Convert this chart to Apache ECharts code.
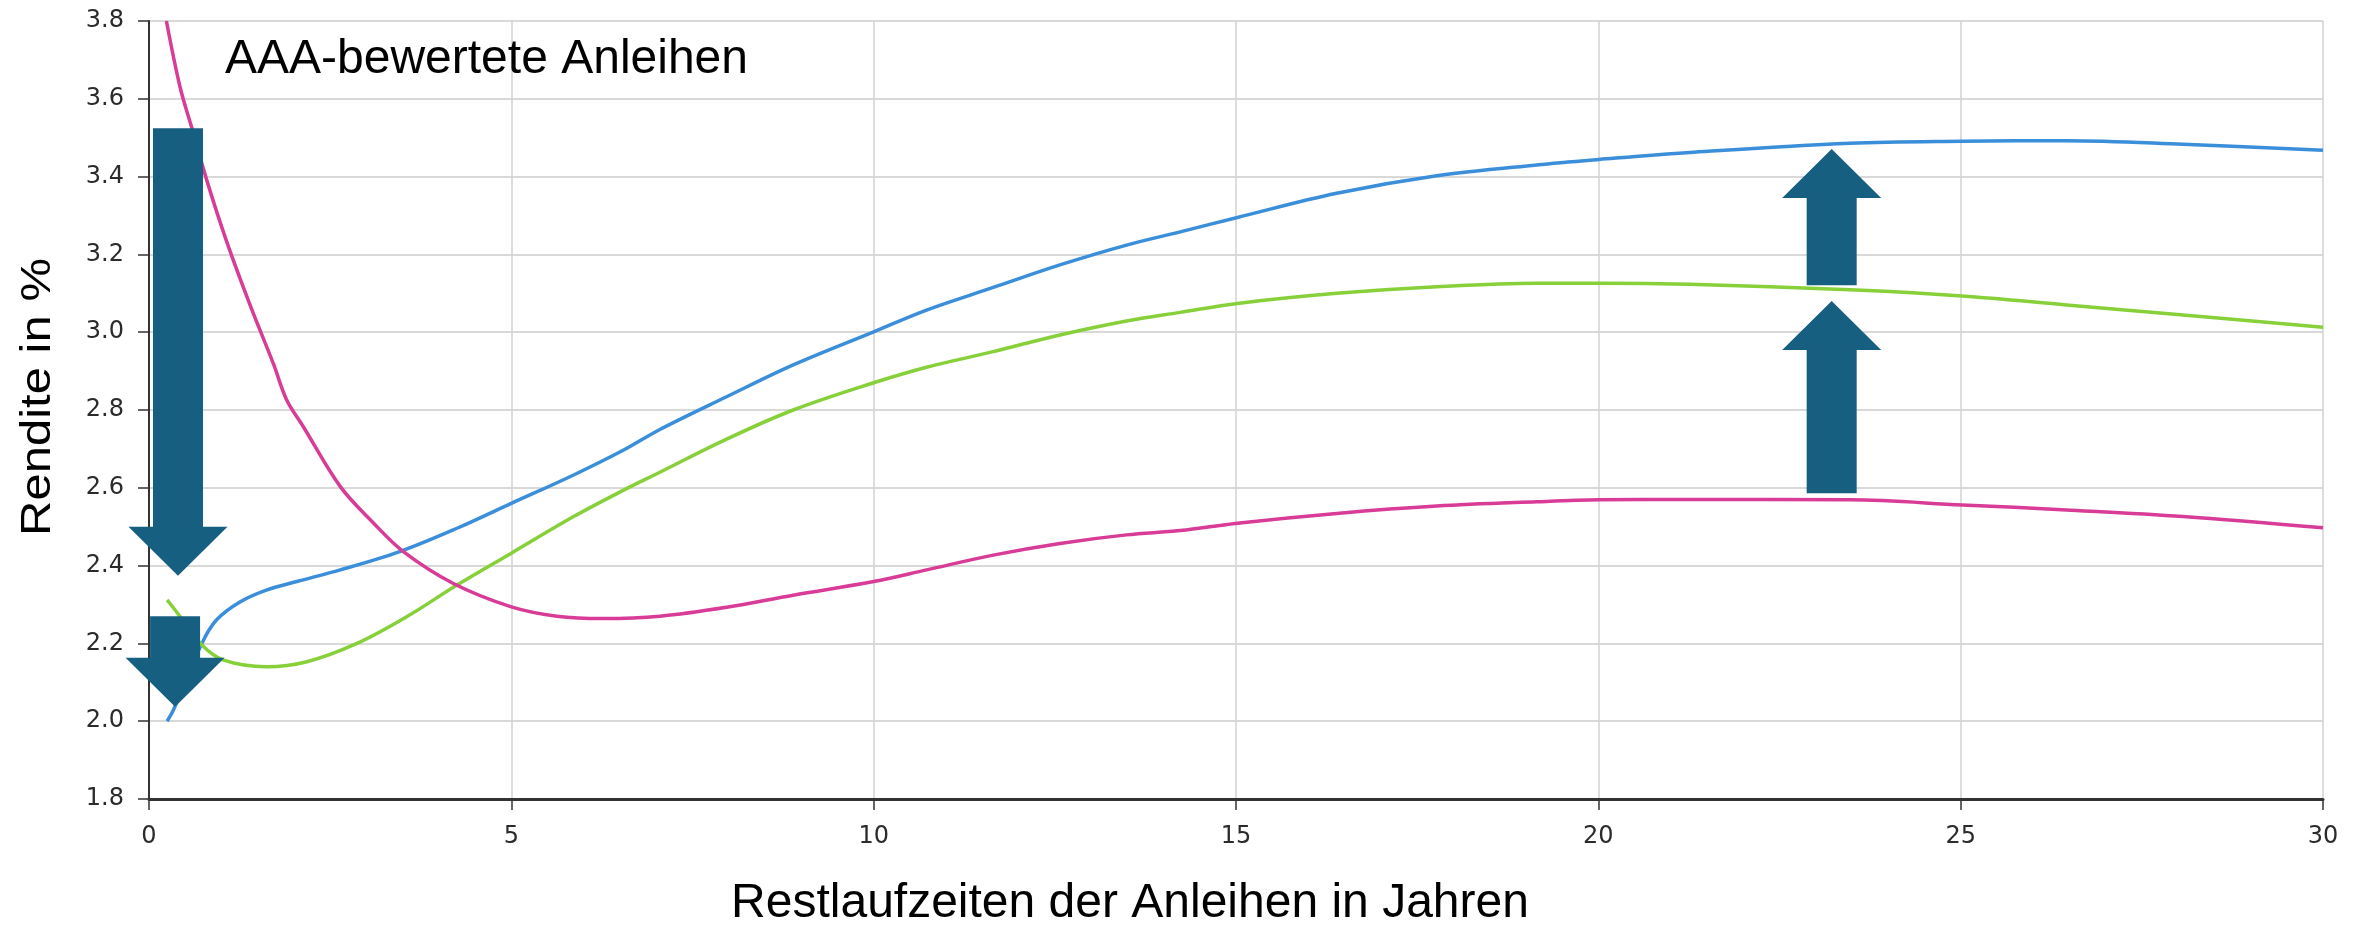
<!DOCTYPE html>
<html>
<head>
<meta charset="utf-8">
<title>AAA-bewertete Anleihen</title>
<script src="https://cdn.jsdelivr.net/npm/echarts@6/dist/echarts.min.js"></script>
<style>
  html, body { margin: 0; padding: 0; background: #ffffff; }
  #chart { width: 2366px; height: 926px; }
</style>
</head>
<body>
<div id="chart"></div>
<script>
// Zinsstrukturkurven (Restlaufzeit in Jahren -> Rendite in %)
const blueYears  = [0.25, 0.34, 0.73, 0.93, 1.26, 1.62, 2.04, 2.64, 3.46, 4.25, 5.0, 5.86, 6.55, 7.05, 7.97, 8.89, 10.0, 10.73, 11.65, 12.57, 13.49, 14.23, 15.02, 16.39, 17.77, 19.15, 20.01, 21.26, 23.47, 25.02, 26.46, 28.07, 30.0];
const blueYield  = [2.00, 2.03, 2.20, 2.26, 2.307, 2.337, 2.359, 2.389, 2.436, 2.496, 2.56, 2.633, 2.697, 2.75, 2.834, 2.916, 3.001, 3.057, 3.115, 3.173, 3.224, 3.258, 3.295, 3.357, 3.402, 3.430, 3.444, 3.462, 3.486, 3.491, 3.492, 3.483, 3.468];

const greenYears = [0.25, 0.43, 0.73, 1.03, 1.62, 2.18, 2.87, 3.56, 4.25, 5.0, 5.86, 6.55, 7.05, 7.97, 8.89, 10.0, 10.73, 11.65, 12.57, 13.49, 14.23, 15.02, 16.39, 17.77, 19.15, 20.01, 21.26, 23.47, 25.02, 26.46, 28.07, 30.0];
const greenYield = [2.312, 2.269, 2.196, 2.157, 2.140, 2.153, 2.200, 2.269, 2.350, 2.432, 2.526, 2.594, 2.640, 2.725, 2.800, 2.870, 2.910, 2.950, 2.993, 3.029, 3.051, 3.074, 3.100, 3.117, 3.126, 3.126, 3.123, 3.109, 3.093, 3.070, 3.044, 3.013];

const pinkYears  = [0.24, 0.43, 0.59, 0.80, 1.07, 1.39, 1.72, 1.90, 2.13, 2.64, 3.10, 3.51, 4.20, 5.0, 5.63, 6.27, 7.05, 7.97, 8.89, 10.0, 10.73, 11.65, 12.57, 13.49, 14.23, 15.02, 16.39, 17.77, 19.15, 20.01, 21.26, 23.47, 25.02, 26.46, 28.07, 30.0];
const pinkYield  = [3.80, 3.629, 3.526, 3.389, 3.234, 3.072, 2.917, 2.826, 2.757, 2.603, 2.509, 2.436, 2.354, 2.294, 2.270, 2.264, 2.270, 2.293, 2.324, 2.359, 2.389, 2.427, 2.457, 2.479, 2.490, 2.509, 2.534, 2.553, 2.564, 2.569, 2.570, 2.569, 2.556, 2.543, 2.526, 2.497];

// Pfeile: Laufzeit, Rendite am Pfeilende, Rendite an der Pfeilspitze
const arrowYears = [0.40, 0.36, 23.22, 23.22];
const arrowFrom  = [3.524, 2.270, 3.121, 2.586];
const arrowTo    = [2.374, 2.037, 3.471, 3.080];

// Achsen
const xTicks = [0, 5, 10, 15, 20, 25, 30];
const yMin = 1.8, yMax = 3.8, yStep = 0.2;

const title = 'AAA-bewertete Anleihen';
const xName = 'Restlaufzeiten der Anleihen in Jahren';
const yName = 'Rendite in %';

const pairs = (xs, ys) => xs.map((x, i) => [x, ys[i]]);
const arrowData = arrowYears.map((x, i) => [x, arrowFrom[i], arrowTo[i]]);

const chart = echarts.init(document.getElementById('chart'), null, { renderer: 'canvas' });

const ARROW_COLOR = '#175f80';
const SHAFT_W = 50, HEAD_W = 99, HEAD_L = 49;

function renderArrow(params, api) {
  const x = api.value(0);
  const p0 = api.coord([x, api.value(1)]);
  const p1 = api.coord([x, api.value(2)]);
  const dir = p1[1] > p0[1] ? 1 : -1;
  const cx = p0[0];
  const hs = SHAFT_W / 2, hh = HEAD_W / 2;
  const baseY = p1[1] - dir * HEAD_L;
  return {
    type: 'polygon',
    shape: {
      points: [
        [cx - hs, p0[1]], [cx + hs, p0[1]], [cx + hs, baseY],
        [cx + hh, baseY], [cx, p1[1]], [cx - hh, baseY], [cx - hs, baseY]
      ]
    },
    style: { fill: ARROW_COLOR }
  };
}

const tickFont = 'DejaVu Sans';
const textFont = 'Liberation Sans';

const curveStyle = (color) => ({
  type: 'line', smooth: 0.35, showSymbol: false, symbol: 'none',
  lineStyle: { color: color, width: 3.5 }, z: 3
});

chart.setOption({
  animation: false,
  backgroundColor: '#ffffff',
  title: {
    text: title,
    left: 225,
    top: 36,
    padding: 0,
    textStyle: { fontFamily: textFont, fontSize: 48, fontWeight: 'normal', color: '#000000' }
  },
  grid: { left: 149, right: 43, top: 21, bottom: 127 },
  xAxis: {
    type: 'value',
    min: xTicks[0],
    max: xTicks[xTicks.length - 1],
    interval: xTicks[1] - xTicks[0],
    axisLine: { show: true, lineStyle: { color: '#333333', width: 3 } },
    axisTick: { show: true, length: 11, lineStyle: { color: '#333333', width: 1.5 } },
    axisLabel: { margin: 26, fontFamily: tickFont, fontSize: 24, color: '#2b2b2b' },
    splitLine: { show: true, lineStyle: { color: '#d2d2d2', width: 1.5 } }
  },
  yAxis: {
    type: 'value',
    min: yMin,
    max: yMax,
    interval: yStep,
    axisLine: { show: true, lineStyle: { color: '#333333', width: 2 } },
    axisTick: { show: true, length: 11, lineStyle: { color: '#333333', width: 1.5 } },
    axisLabel: {
      margin: 25, fontFamily: tickFont, fontSize: 24, color: '#2b2b2b',
      formatter: v => v.toFixed(1)
    },
    splitLine: { show: true, lineStyle: { color: '#d9d9d9', width: 2 } }
  },
  graphic: [
    {
      type: 'text',
      x: 1130, y: 904,
      style: {
        text: xName, fontFamily: textFont, fontSize: 48, fill: '#000000',
        align: 'center', verticalAlign: 'middle'
      }
    },
    {
      type: 'text',
      x: 38, y: 397,
      rotation: Math.PI / 2,
      scaleX: 1.14,
      style: {
        text: yName, fontFamily: textFont, fontSize: 43, fill: '#000000',
        align: 'center', verticalAlign: 'middle'
      }
    }
  ],
  series: [
    Object.assign({ name: 'Kurve blau', data: pairs(blueYears, blueYield) }, curveStyle('#3b8fda')),
    Object.assign({ name: 'Kurve grün', data: pairs(greenYears, greenYield) }, curveStyle('#88d03a')),
    Object.assign({ name: 'Kurve magenta', data: pairs(pinkYears, pinkYield) }, curveStyle('#d83c97')),
    {
      name: 'Pfeile', type: 'custom', data: arrowData,
      encode: { x: 0, y: [1, 2] },
      renderItem: renderArrow, clip: false, z: 5, silent: true
    }
  ]
});
</script>
</body>
</html>
